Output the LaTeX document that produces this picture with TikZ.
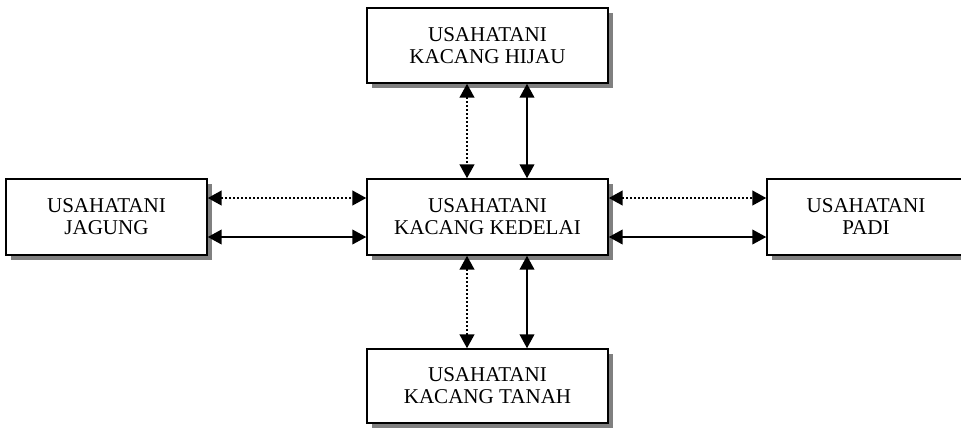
\documentclass[tikz,border=0pt]{standalone}
\usepackage{fontspec}
\setmainfont{Liberation Serif}
\usetikzlibrary{arrows.meta,shadows}
\begin{document}
\begin{tikzpicture}[x=0.75pt,y=-0.75pt,
  box/.style={draw=black,line width=1.1pt,fill=white,align=center,
    font=\fontsize{15.8}{16.5}\selectfont,inner sep=0pt,
    drop shadow={shadow xshift=3.8pt,shadow yshift=-3.8pt,fill=black!50,opacity=1}},
  link/.style={line width=1.5pt,{Triangle[length=10.5pt,width=11pt]}-{Triangle[length=10.5pt,width=11pt]}},
  dotlink/.style={link,line width=1.8pt,dash pattern=on 1.6pt off 1.4pt}]
\useasboundingbox (0,0) rectangle (961,429);
\clip (0,0) rectangle (961,429);
\node[box,minimum width=241*0.75pt,minimum height=75*0.75pt] (top) at (487.5,45.5) {USAHATANI\\KACANG HIJAU};
\node[box,minimum width=241*0.75pt,minimum height=76*0.75pt] (mid) at (487.5,217) {USAHATANI\\KACANG KEDELAI};
\node[box,minimum width=241*0.75pt,minimum height=74*0.75pt] (bot) at (487.5,386) {USAHATANI\\KACANG TANAH};
\node[box,minimum width=201*0.75pt,minimum height=76*0.75pt] (left) at (106.5,217) {USAHATANI\\JAGUNG};
\node[box,minimum width=198*0.75pt,minimum height=76*0.75pt] (right) at (866,217) {USAHATANI\\PADI};
\coordinate (tdot) at (467,0); \coordinate (tsol) at (527,0);
\coordinate (hdot) at (0,198); \coordinate (hsol) at (0,237);
\draw[dotlink] (top.south -| tdot) -- (mid.north -| tdot);
\draw[link] (top.south -| tsol) -- (mid.north -| tsol);
\draw[dotlink] (mid.south -| tdot) -- (bot.north -| tdot);
\draw[link] (mid.south -| tsol) -- (bot.north -| tsol);
\draw[dotlink] (left.east |- hdot) -- (mid.west |- hdot);
\draw[link] (left.east |- hsol) -- (mid.west |- hsol);
\draw[dotlink] (mid.east |- hdot) -- (right.west |- hdot);
\draw[link] (mid.east |- hsol) -- (right.west |- hsol);
\end{tikzpicture}
\end{document}
